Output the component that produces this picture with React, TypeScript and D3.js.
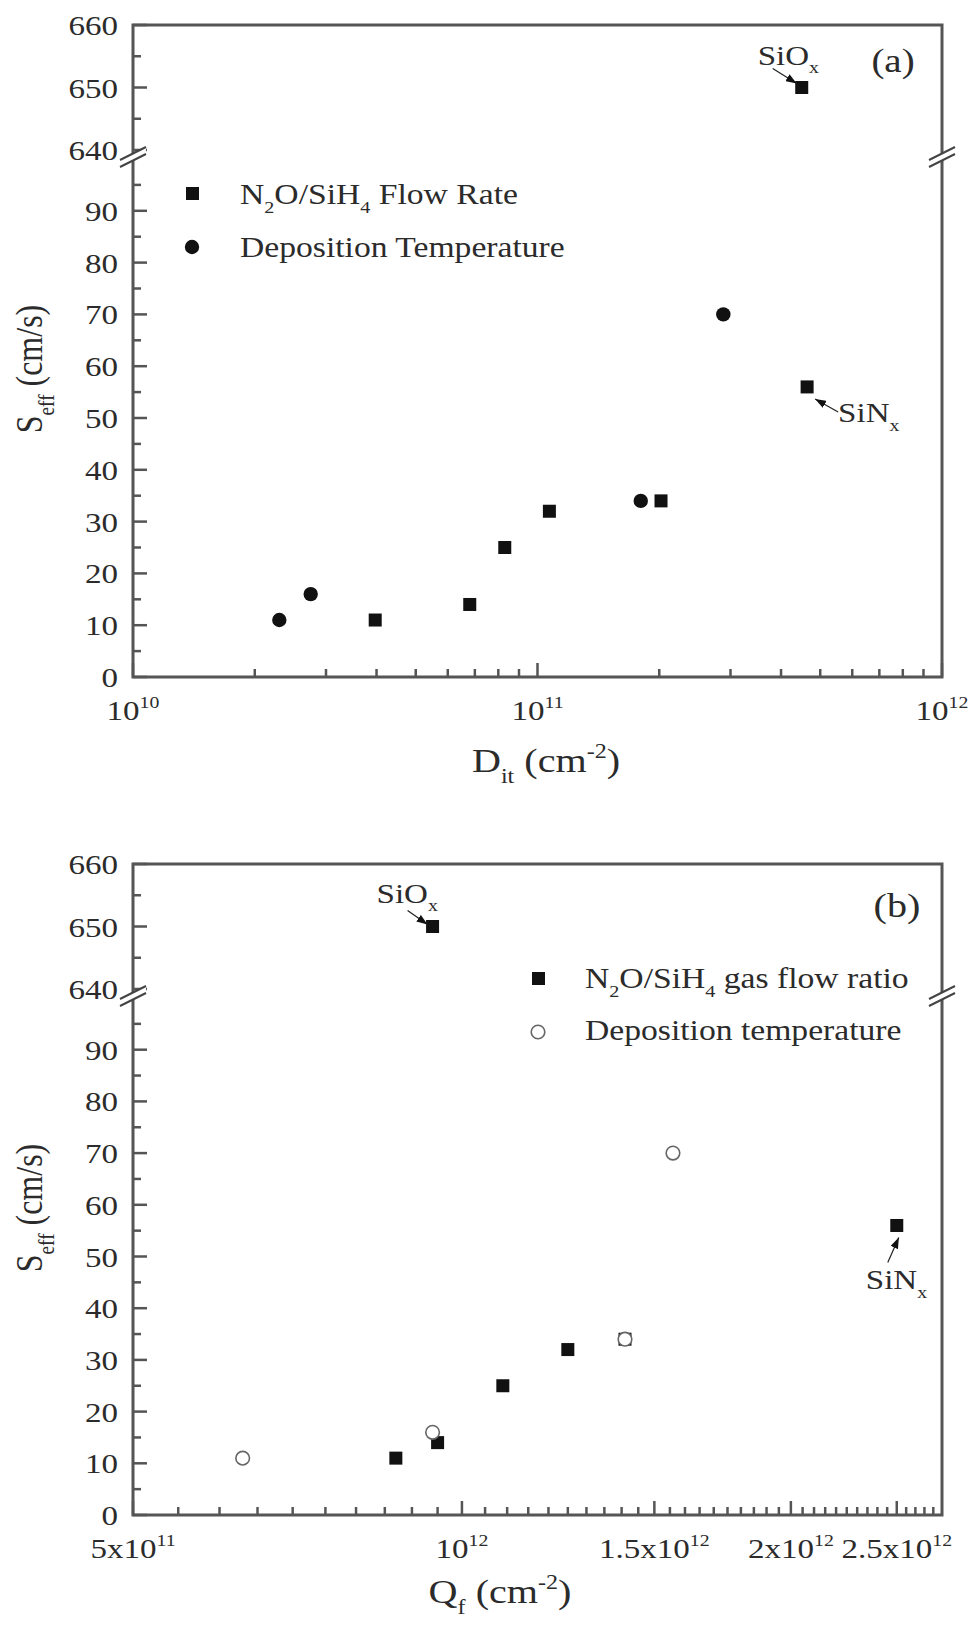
import React from "react";
import * as d3 from "d3";

// ---- data ----
// panel (a): S_eff vs D_it
const ditFlow = [3.97e10, 6.8e10, 8.3e10, 1.07e11, 2.02e11, 4.64e11];
const seffFlowA = [11, 14, 25, 32, 34, 56];
const ditSiOx = [4.5e11];
const seffSiOxA = [650];
const ditTemp = [2.3e10, 2.75e10, 1.8e11, 2.88e11];
const seffTempA = [11, 16, 34, 70];

// panel (b): S_eff vs Q_f
const qfFlow = [8.7e11, 9.5e11, 1.09e12, 1.25e12, 1.41e12, 2.5e12];
const seffFlowB = [11, 14, 25, 32, 34, 56];
const qfSiOx = [9.4e11];
const seffSiOxB = [650];
const qfTemp = [6.3e11, 9.4e11, 1.41e12, 1.56e12];
const seffTempB = [11, 16, 34, 70];

// axis ticks
const yLowMajor = [0, 10, 20, 30, 40, 50, 60, 70, 80, 90];
const yLowMinor = [5, 15, 25, 35, 45, 55, 65, 75, 85, 95];
const yHighMajor = [640, 650, 660];
const yHighMinor = [645, 655];
const xMajorA = [1e10, 1e11, 1e12];
const xLabelsA = ["10^{10}", "10^{11}", "10^{12}"];
const xMajorB = [5e11, 1e12, 1.5e12, 2e12, 2.5e12];
const xLabelsB = ["5x10^{11}", "10^{12}", "1.5x10^{12}", "2x10^{12}", "2.5x10^{12}"];

const SX = 1.18;
const FONT = '"Liberation Serif", "Times New Roman", serif';
const INK = "#2b2b2b";
const AXIS = "#555";

type Seg = { t: string; sub?: boolean; sup?: boolean };

// "N_{2}O" -> segments
function parse(s: string): Seg[] {
  const out: Seg[] = [];
  const re = /(_|\^)\{([^}]*)\}/g;
  let last = 0;
  let m: RegExpExecArray | null;
  while ((m = re.exec(s))) {
    if (m.index > last) out.push({ t: s.slice(last, m.index) });
    out.push({ t: m[2], sub: m[1] === "_", sup: m[1] === "^" });
    last = re.lastIndex;
  }
  if (last < s.length) out.push({ t: s.slice(last) });
  return out;
}

function Rich({ x, y, size, text, anchor = "start", rotate = false }: any) {
  let shift = 0;
  const kids = parse(text).map((s, i) => {
    const target = s.sub ? size * 0.32 : s.sup ? -size * 0.42 : 0;
    const dy = target - shift;
    shift = target;
    return (
      <tspan key={i} dy={dy} fontSize={s.sub || s.sup ? size * 0.6 : size}>
        {s.t}
      </tspan>
    );
  });
  const tr = rotate
    ? `translate(${x},${y}) rotate(-90) scale(1,${SX})`
    : `translate(${x},${y}) scale(${SX},1)`;
  return (
    <text transform={tr} fontSize={size} textAnchor={anchor} fill={INK} fontFamily={FONT}>
      {kids}
    </text>
  );
}

const L = 133;
const R = 942;

function Break({ x, y }: { x: number; y: number }) {
  return (
    <g>
      <polygon
        points={`${x - 13},${y + 5} ${x + 13},${y - 8} ${x + 13},${y - 1} ${x - 13},${y + 12}`}
        fill="#fff"
      />
      <line x1={x - 13} y1={y + 5} x2={x + 13} y2={y - 8} stroke="#444" strokeWidth={2} />
      <line x1={x - 13} y1={y + 12} x2={x + 13} y2={y - 1} stroke="#444" strokeWidth={2} />
    </g>
  );
}

function Panel({
  top,
  bottom,
  x,
  xMajor,
  xMinor,
  xLabels,
  sqX,
  sqY,
  ciX,
  ciY,
  openCircles,
  children,
}: any) {
  const yHigh = d3.scaleLinear().domain([640, 660]).range([top + 125, top]);
  const yLow = d3.scaleLinear().domain([0, 100]).range([bottom, top + 134]);
  const y = (v: number) => (v >= 600 ? yHigh(v) : yLow(v));
  const brk = top + 130;
  const labelY = bottom + 43;
  return (
    <g>
      {/* frame */}
      <rect x={L} y={top} width={R - L} height={bottom - top} fill="none" stroke={AXIS} strokeWidth={3} />
      {/* y ticks */}
      {yLowMajor.map((v) => (
        <line key={"a" + v} x1={L} x2={L + 14} y1={yLow(v)} y2={yLow(v)} stroke={AXIS} strokeWidth={2.5} />
      ))}
      {yLowMinor.map((v) => (
        <line key={"b" + v} x1={L} x2={L + 8} y1={yLow(v)} y2={yLow(v)} stroke={AXIS} strokeWidth={2.5} />
      ))}
      {yHighMajor.map((v) => (
        <line key={"c" + v} x1={L} x2={L + 14} y1={yHigh(v)} y2={yHigh(v)} stroke={AXIS} strokeWidth={2.5} />
      ))}
      {yHighMinor.map((v) => (
        <line key={"d" + v} x1={L} x2={L + 8} y1={yHigh(v)} y2={yHigh(v)} stroke={AXIS} strokeWidth={2.5} />
      ))}
      {yLowMajor.map((v) => (
        <Rich key={"e" + v} x={118} y={yLow(v) + 10} size={28} anchor="end" text={String(v)} />
      ))}
      {yHighMajor.map((v) => (
        <Rich key={"f" + v} x={118} y={yHigh(v) + 10} size={28} anchor="end" text={String(v)} />
      ))}
      {/* x ticks */}
      {xMajor.map((v: number) => (
        <line key={"g" + v} x1={x(v)} x2={x(v)} y1={bottom} y2={bottom - 14} stroke={AXIS} strokeWidth={2.5} />
      ))}
      {xMinor.map((v: number) => (
        <line key={"h" + v} x1={x(v)} x2={x(v)} y1={bottom} y2={bottom - 8} stroke={AXIS} strokeWidth={2.5} />
      ))}
      {xMajor.map((v: number, i: number) => (
        <Rich key={"i" + v} x={x(v)} y={labelY} size={28} anchor="middle" text={xLabels[i]} />
      ))}
      <Break x={L} y={brk} />
      <Break x={R} y={brk} />
      {/* data */}
      {sqX.map((v: number, i: number) => (
        <rect key={"s" + i} x={x(v) - 6.5} y={y(sqY[i]) - 6.5} width={13} height={13} fill="#111" />
      ))}
      {ciX.map((v: number, i: number) =>
        openCircles ? (
          <circle key={"o" + i} cx={x(v)} cy={y(ciY[i])} r={6.8} fill="#fff" stroke="#666" strokeWidth={1.6} />
        ) : (
          <circle key={"o" + i} cx={x(v)} cy={y(ciY[i])} r={7.2} fill="#111" />
        )
      )}
      {children(x, y)}
    </g>
  );
}

function Arrow({ x1, y1, x2, y2 }: any) {
  return <line x1={x1} y1={y1} x2={x2} y2={y2} stroke="#222" strokeWidth={1.2} markerEnd="url(#ah)" />;
}

export default function App() {
  const xA = d3.scaleLog().domain([1e10, 1e12]).range([L, R]);
  const xB = d3.scaleLog().domain([5e11, 2.75e12]).range([L, R]);
  const minorA: number[] = [];
  [1e10, 1e11].forEach((d) => {
    for (let k = 2; k <= 9; k++) minorA.push(k * d);
  });
  const minorB: number[] = [];
  for (let k = 11; k <= 54; k++) {
    const v = k * 5e10;
    if (!xMajorB.some((m) => Math.abs(m - v) < 1e9)) minorB.push(v);
  }

  return (
    <div style={{ position: "absolute", left: 0, top: 0 }}>
      <svg width={975} height={1630} style={{ display: "block", background: "#fff" }}>
        <defs>
          <marker id="ah" markerUnits="userSpaceOnUse" markerWidth={11} markerHeight={8} refX={11} refY={4} orient="auto">
            <path d="M0,0 L11,4 L0,8 z" fill="#111" />
          </marker>
        </defs>

        <Panel
          top={25}
          bottom={677}
          x={xA}
          xMajor={xMajorA}
          xMinor={minorA}
          xLabels={xLabelsA}
          sqX={[...ditFlow, ...ditSiOx]}
          sqY={[...seffFlowA, ...seffSiOxA]}
          ciX={ditTemp}
          ciY={seffTempA}
          openCircles={false}
        >
          {(x: any, y: any) => {
            const ox = x(ditSiOx[0]);
            const oy = y(seffSiOxA[0]);
            const nx = x(ditFlow[5]);
            const ny = y(seffFlowA[5]);
            return (
              <g>
                <Rich x={ox - 44} y={oy - 23} size={28} text="SiO_{x}" />
                <Arrow x1={ox - 29} y1={oy - 19} x2={ox - 5} y2={oy - 4} />
                <Rich x={nx + 31} y={ny + 35} size={28} text="SiN_{x}" />
                <Arrow x1={nx + 31} y1={ny + 25} x2={nx + 8} y2={ny + 12} />
                <Rich x={893} y={72} size={33} anchor="middle" text="(a)" />
                <rect x={186} y={187} width={13} height={13} fill="#111" />
                <Rich x={240} y={204} size={28.5} text="N_{2}O/SiH_{4} Flow Rate" />
                <circle cx={192} cy={247} r={7.2} fill="#111" />
                <Rich x={240} y={257} size={28.5} text="Deposition Temperature" />
              </g>
            );
          }}
        </Panel>

        <Panel
          top={864}
          bottom={1515}
          x={xB}
          xMajor={xMajorB}
          xMinor={minorB}
          xLabels={xLabelsB}
          sqX={[...qfFlow, ...qfSiOx]}
          sqY={[...seffFlowB, ...seffSiOxB]}
          ciX={qfTemp}
          ciY={seffTempB}
          openCircles={true}
        >
          {(x: any, y: any) => {
            const ox = x(qfSiOx[0]);
            const oy = y(seffSiOxB[0]);
            const nx = x(qfFlow[5]);
            const ny = y(seffFlowB[5]);
            return (
              <g>
                <Rich x={ox - 56} y={oy - 24} size={28} text="SiO_{x}" />
                <Arrow x1={ox - 25} y1={oy - 16} x2={ox - 5} y2={oy - 2} />
                <Rich x={nx - 31} y={ny + 64} size={28} text="SiN_{x}" />
                <Arrow x1={nx - 9} y1={ny + 37} x2={nx + 2} y2={ny + 12} />
                <Rich x={897} y={917} size={34} anchor="middle" text="(b)" />
                <rect x={532} y={972} width={13} height={13} fill="#111" />
                <Rich x={585} y={988} size={28.5} text="N_{2}O/SiH_{4} gas flow ratio" />
                <circle cx={538} cy={1032} r={6.8} fill="#fff" stroke="#666" strokeWidth={1.6} />
                <Rich x={585} y={1040} size={28.5} text="Deposition temperature" />
              </g>
            );
          }}
        </Panel>

        {/* axis titles */}
        <Rich x={42} y={369} size={32} anchor="middle" rotate text="S_{eff} (cm/s)" />
        <Rich x={546} y={772} size={34} anchor="middle" text="D_{it} (cm^{-2})" />
        <Rich x={42} y={1208} size={32} anchor="middle" rotate text="S_{eff} (cm/s)" />
        <Rich x={500} y={1603} size={34} anchor="middle" text="Q_{f} (cm^{-2})" />
      </svg>
    </div>
  );
}
